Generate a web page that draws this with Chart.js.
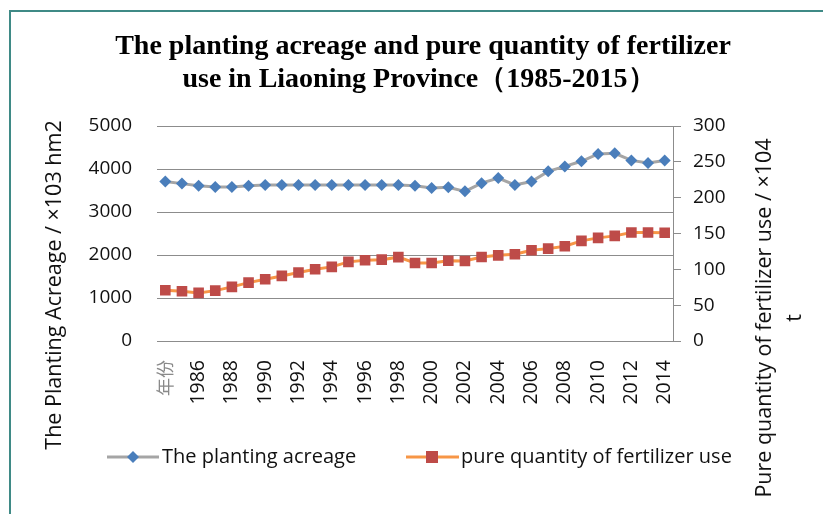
<!DOCTYPE html>
<html>
<head>
<meta charset="utf-8">
<script src="https://cdn.jsdelivr.net/npm/chart.js@4"></script>
<style>
html,body{margin:0;padding:0;background:#fff;}
#wrap{position:relative;width:823px;height:514px;}
</style>
</head>
<body>
<div id="wrap"><canvas id="c" width="823" height="514"></canvas></div>
<script>
const categories = ['年份','1985','1986','1987','1988','1989','1990','1991','1992','1993','1994','1995','1996','1997','1998','1999','2000','2001','2002','2003','2004','2005','2006','2007','2008','2009','2010','2011','2012','2013','2014'];
const plantingAcreage = [3710,3660,3610,3580,3580,3610,3630,3630,3630,3630,3630,3630,3630,3630,3630,3610,3560,3575,3480,3670,3790,3630,3710,3945,4060,4180,4350,4365,4200,4140,4200];
const fertilizerUse = [70.8,69.4,67.1,70.3,75.5,81.5,86.2,90.8,95.5,100.1,103.4,110.4,112.7,113.5,117.0,108.8,108.8,112.0,111.6,117.2,119.5,121.0,126.6,128.9,132.2,139.7,143.9,146.7,151.4,151.4,151.0];
const leftTicks = [0,1000,2000,3000,4000,5000];
const rightTicks = [0,50,100,150,200,250,300];
const titleLines = ['The planting acreage and pure quantity of fertilizer','use in Liaoning Province（1985-2015）'];
const leftAxisTitle = 'The Planting Acreage / ×103 hm2';
const rightAxisTitle = ['Pure quantity of fertilizer use / ×104','t'];
const seriesNames = ['The planting acreage','pure quantity of fertilizer use'];

const SANS = '"Open Sans", "DejaVu Sans", sans-serif';
const BLUE = '#4A7EBB', GRAYLINE = '#A5A5A5', RED = '#BE4B48', ORANGE = '#F79646';
const GRID = '#8C8C8C';

const decor = {
  id: 'decor',
  beforeDraw(chart) {
    const ctx = chart.ctx;
    ctx.save();
    ctx.fillStyle = '#fff';
    ctx.fillRect(0, 0, chart.width, chart.height);
    ctx.restore();
  },
  afterDraw(chart) {
    const ctx = chart.ctx;
    ctx.save();
    // frame
    ctx.strokeStyle = '#3F8A86';
    ctx.lineWidth = 2;
    ctx.beginPath();
    ctx.moveTo(823, 11); ctx.lineTo(10, 11); ctx.lineTo(10, 514);
    ctx.stroke();
    // title
    ctx.fillStyle = '#000';
    ctx.textAlign = 'center';
    ctx.textBaseline = 'middle';
    ctx.font = 'bold 28px "Liberation Serif", "Times New Roman", serif';
    ctx.fillText(titleLines[0], 423, 47);
    ctx.fillText(titleLines[1], 419, 80);
    // left axis title
    ctx.font = '21.5px ' + SANS;
    ctx.fillStyle = '#111';
    ctx.save();
    ctx.translate(55, 285);
    ctx.rotate(-Math.PI / 2);
    ctx.fillText(leftAxisTitle, 0, 0);
    ctx.restore();
    // right axis title
    ctx.save();
    ctx.translate(765, 318);
    ctx.rotate(-Math.PI / 2);
    ctx.fillText(rightAxisTitle[0], 0, 0);
    ctx.fillText(rightAxisTitle[1], 0, 30);
    ctx.restore();
    // legend
    const ly = 457;
    ctx.lineWidth = 3;
    ctx.strokeStyle = GRAYLINE;
    ctx.beginPath(); ctx.moveTo(107, ly); ctx.lineTo(159, ly); ctx.stroke();
    ctx.fillStyle = BLUE;
    ctx.beginPath();
    ctx.moveTo(133 - 6, ly); ctx.lineTo(133, ly - 6); ctx.lineTo(133 + 6, ly); ctx.lineTo(133, ly + 6); ctx.closePath();
    ctx.fill();
    ctx.strokeStyle = ORANGE;
    ctx.beginPath(); ctx.moveTo(406, ly); ctx.lineTo(459, ly); ctx.stroke();
    ctx.fillStyle = RED;
    ctx.fillRect(432 - 6, ly - 6, 12, 12);
    ctx.fillStyle = '#111';
    ctx.textAlign = 'left';
    ctx.font = '20px ' + SANS;
    ctx.fillText(seriesNames[0], 162, ly);
    ctx.fillText(seriesNames[1], 461, ly);
    ctx.restore();
  }
};

new Chart(document.getElementById('c'), {
  type: 'line',
  data: {
    labels: categories,
    datasets: [
      {
        label: seriesNames[0],
        data: plantingAcreage,
        yAxisID: 'y',
        borderColor: GRAYLINE,
        borderWidth: 3,
        backgroundColor: BLUE,
        pointBackgroundColor: BLUE,
        pointBorderColor: BLUE,
        pointBorderWidth: 0,
        pointStyle: 'rectRot',
        pointRadius: 6,
        tension: 0,
        order: 1
      },
      {
        label: seriesNames[1],
        data: fertilizerUse,
        yAxisID: 'y1',
        borderColor: ORANGE,
        borderWidth: 3,
        backgroundColor: RED,
        pointBackgroundColor: RED,
        pointBorderColor: RED,
        pointBorderWidth: 0,
        pointStyle: 'rect',
        pointRadius: 7.5,
        tension: 0,
        order: 2
      }
    ]
  },
  options: {
    responsive: false,
    animation: false,
    events: [],
    layout: { padding: { top: 126, left: 0, right: 0, bottom: 0 } },
    plugins: { legend: { display: false }, title: { display: false }, tooltip: { enabled: false } },
    scales: {
      x: {
        type: 'category',
        offset: true,
        grid: { display: false, drawTicks: false },
        border: { display: true, color: GRID, width: 1 },
        ticks: {
          autoSkip: false,
          minRotation: 90,
          maxRotation: 90,
          padding: 19,
          color: (c) => c.index === 0 ? '#8A8A8A' : '#111',
          font: (c) => c.index === 0 ? { family: '"Noto Sans CJK SC", sans-serif', size: 18 } : { family: SANS, size: 19.5 },
          callback: function(v, i) { return i % 2 === 0 ? categories[i] : ''; }
        },
        afterFit(s) { s.height = 173; }
      },
      y: {
        position: 'left',
        min: 0, max: 5000,
        afterBuildTicks(s) { s.ticks = leftTicks.map(v => ({ value: v })); },
        grid: { color: GRID, lineWidth: 1, drawTicks: false },
        border: { display: false },
        ticks: { padding: 25, color: '#111', font: { family: SANS, size: 19 }, callback: (v) => String(v) },
        afterFit(s) { s.width = 157; }
      },
      y1: {
        position: 'right',
        min: 0, max: 300,
        afterBuildTicks(s) { s.ticks = rightTicks.map(v => ({ value: v })); },
        grid: { drawOnChartArea: false, drawTicks: true, tickLength: 8, color: GRID },
        border: { display: true, color: GRID, width: 1 },
        ticks: { padding: 12, color: '#111', font: { family: SANS, size: 19 }, callback: (v) => String(v) },
        afterFit(s) { s.width = 150; }
      }
    }
  },
  plugins: [decor]
});
</script>
</body>
</html>
